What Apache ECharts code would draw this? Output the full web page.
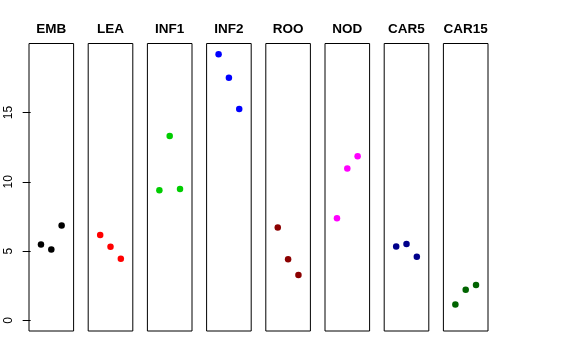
<!DOCTYPE html>
<html>
<head>
<meta charset="utf-8">
<script src="https://cdn.jsdelivr.net/npm/echarts@6/dist/echarts.min.js"></script>
<style>html,body{margin:0;padding:0;background:#fff;}#c{width:576px;height:360px;}</style>
</head>
<body>
<div id="c"></div>
<script>
var panels = ['EMB','LEA','INF1','INF2','ROO','NOD','CAR5','CAR15'];
var colors = ['#000000','#FF0000','#00CD00','#0000FF','#8B0000','#FF00FF','#00008B','#006400'];
var EMB   = [5.48, 5.12, 6.85];
var LEA   = [6.17, 5.31, 4.44];
var INF1  = [9.39, 13.31, 9.49];
var INF2  = [19.22, 17.52, 15.26];
var ROO   = [6.71, 4.42, 3.27];
var NOD   = [7.38, 10.96, 11.85];
var CAR5  = [5.34, 5.52, 4.59];
var CAR15 = [1.15, 2.21, 2.55];
var values = [EMB, LEA, INF1, INF2, ROO, NOD, CAR5, CAR15];
var yTicks = [0, 5, 10, 15];
var yMin = -0.77, yMax = 19.99;
var xMin = -0.16, xMax = 4.16;

(function () {
  var grids = [], xAxes = [], yAxes = [], series = [], titles = [];
  var left0 = 29, pitch = 59.2, w = 44.6, gTop = 43.5, h = 287.5;
  for (var i = 0; i < panels.length; i++) {
    var L = left0 + i * pitch;
    grids.push({left: L, top: gTop, width: w, height: h, show: true, borderColor: '#000', borderWidth: 1, backgroundColor: 'transparent'});
    xAxes.push({type: 'value', gridIndex: i, min: xMin, max: xMax, show: false});
    var ya = {type: 'value', gridIndex: i, min: yMin, max: yMax, splitLine: {show: false}, axisLine: {show: false}};
    if (i === 0) {
      ya.axisTick = {show: true, customValues: yTicks, length: 8, lineStyle: {color: '#000', width: 1}};
      ya.axisLabel = {show: true, customValues: yTicks, rotate: 90, margin: 14, color: '#000', fontSize: 12, fontFamily: 'Liberation Sans, Arial, sans-serif'};
    } else {
      ya.axisTick = {show: false};
      ya.axisLabel = {show: false};
    }
    yAxes.push(ya);
    series.push({
      type: 'scatter', xAxisIndex: i, yAxisIndex: i,
      symbol: 'circle', symbolSize: 6.5,
      itemStyle: {color: colors[i], opacity: 1},
      data: values[i].map(function (v, k) { return [k + 1, v]; }),
      silent: true, animation: false
    });
    titles.push({
      text: panels[i], left: L + w / 2, top: 22, textAlign: 'center', padding: 0,
      textStyle: {fontSize: 13.5, fontWeight: 'bold', color: '#000', fontFamily: 'Liberation Sans, Arial, sans-serif'}
    });
  }
  var chart = echarts.init(document.getElementById('c'), null, {renderer: 'canvas'});
  chart.setOption({
    animation: false,
    backgroundColor: '#fff',
    title: titles,
    grid: grids,
    xAxis: xAxes,
    yAxis: yAxes,
    series: series
  });
})();
</script>
</body>
</html>
